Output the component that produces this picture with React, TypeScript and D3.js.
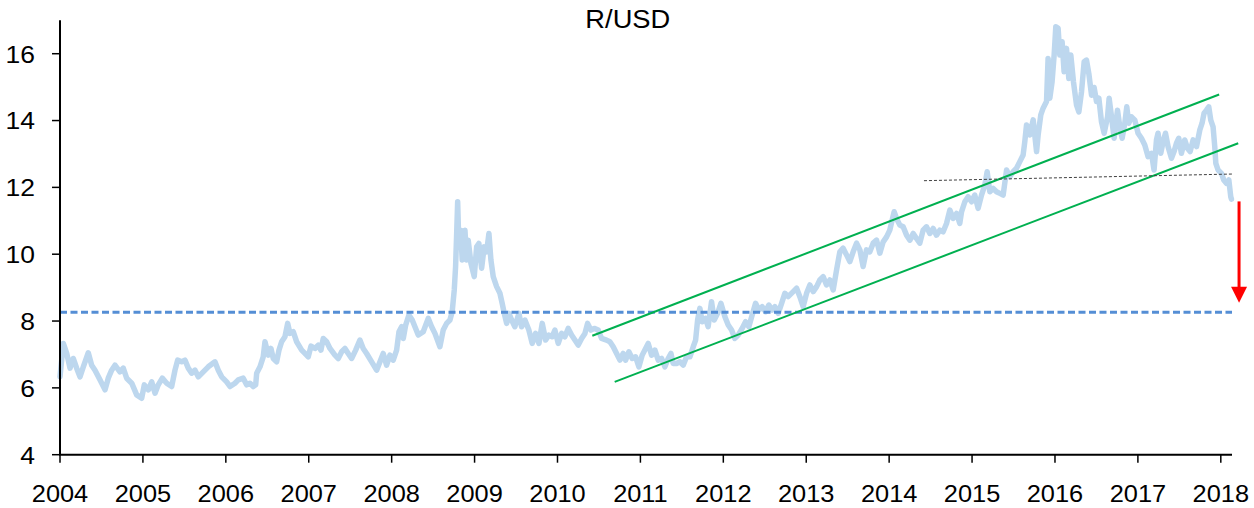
import React from "react";
import * as d3 from "d3";

// Years since 2004 (decimal) and R/USD values
const yearOffsets = [
  0.000, 0.040, 0.081, 0.121, 0.160, 0.201, 0.241, 0.281, 0.341, 0.382, 0.422, 0.482, 0.543, 0.582, 0.623, 0.663,
  0.723, 0.763, 0.804, 0.865, 0.925, 0.985, 1.017, 1.065, 1.106, 1.146, 1.185, 1.234, 1.287, 1.347, 1.387, 1.419,
  1.467, 1.507, 1.547, 1.588, 1.628, 1.668, 1.728, 1.788, 1.869, 1.909, 1.950, 2.010, 2.050,
  2.110, 2.150, 2.210, 2.251, 2.291, 2.331, 2.360, 2.372, 2.412, 2.451, 2.472, 2.512, 2.544, 2.572, 2.613, 2.641,
  2.673, 2.713, 2.746, 2.773, 2.813, 2.854, 2.915, 2.954, 2.994, 3.027, 3.075, 3.115, 3.147, 3.175, 3.216, 3.256,
  3.316, 3.356, 3.397, 3.437, 3.476, 3.517, 3.566, 3.617, 3.657, 3.698, 3.759, 3.819, 3.859, 3.898, 3.939, 3.979,
  4.019, 4.060, 4.088, 4.120, 4.140, 4.169, 4.208, 4.248,
  4.321, 4.381, 4.441, 4.482, 4.522, 4.582, 4.622, 4.663, 4.703, 4.730, 4.755, 4.771, 4.784, 4.796, 4.811, 4.832,
  4.851, 4.884, 4.904, 4.923, 4.956, 4.996, 5.025, 5.052, 5.085, 5.116, 5.145, 5.173, 5.197, 5.225, 5.266, 5.306,
  5.333, 5.358, 5.387, 5.414, 5.447, 5.486, 5.535, 5.567, 5.607, 5.655, 5.695, 5.736, 5.776, 5.816, 5.857, 5.897,
  5.936, 5.969, 6.009, 6.050, 6.089, 6.129, 6.170, 6.210, 6.250, 6.291, 6.331, 6.363, 6.403, 6.443,
  6.491, 6.532, 6.592, 6.632, 6.672, 6.713, 6.753, 6.792, 6.821, 6.861, 6.901, 6.942, 6.982, 7.022, 7.063, 7.094,
  7.135, 7.175, 7.215, 7.256, 7.295, 7.335, 7.368, 7.395, 7.436, 7.476, 7.516, 7.557, 7.597, 7.637, 7.666, 7.690,
  7.717, 7.745, 7.786, 7.817, 7.858, 7.890, 7.931, 7.971, 8.019, 8.059, 8.100, 8.139, 8.179, 8.227, 8.268, 8.308,
  8.348, 8.389, 8.429, 8.469, 8.510, 8.549, 8.589,
  8.622, 8.662, 8.703, 8.742, 8.782, 8.843, 8.884, 8.923, 8.963, 9.004, 9.044, 9.084, 9.125, 9.164, 9.204, 9.245,
  9.285, 9.325, 9.366, 9.405, 9.445, 9.486, 9.526, 9.566, 9.607, 9.647, 9.686, 9.727, 9.767, 9.807, 9.848, 9.888,
  9.928, 9.969, 10.008, 10.036, 10.060, 10.089, 10.129, 10.169, 10.210, 10.250, 10.290, 10.330, 10.370, 10.410,
  10.450, 10.491, 10.531, 10.571, 10.611, 10.651, 10.692, 10.732, 10.772, 10.813, 10.852,
  10.873, 10.913, 10.953, 10.994, 11.033, 11.073, 11.114, 11.154, 11.182, 11.214, 11.254, 11.295, 11.335, 11.375,
  11.416, 11.455, 11.495, 11.536, 11.576, 11.616, 11.636, 11.657, 11.697, 11.737, 11.778, 11.797, 11.829, 11.857,
  11.898, 11.917, 11.938, 11.965, 11.990, 12.010, 12.038, 12.058, 12.086, 12.110, 12.139, 12.167, 12.191, 12.223,
  12.260, 12.288, 12.320, 12.352, 12.380, 12.408, 12.441, 12.472, 12.501, 12.529, 12.561, 12.593,
  12.634, 12.653, 12.682, 12.713, 12.754, 12.782, 12.810, 12.842, 12.866, 12.890, 12.923, 12.963, 13.002, 13.043,
  13.083, 13.123, 13.164, 13.195, 13.224, 13.243, 13.276, 13.304, 13.333, 13.364, 13.405, 13.436, 13.465, 13.493,
  13.525, 13.565, 13.598, 13.630, 13.666, 13.707, 13.747, 13.774, 13.798, 13.827, 13.855, 13.879, 13.907, 13.927,
  13.940, 13.967, 14.008, 14.036, 14.068, 14.097, 14.120, 14.128,
];

const rates = [
  6.33, 7.33, 7.03, 6.59, 6.88, 6.59, 6.33, 6.63, 7.05, 6.68, 6.53, 6.24, 5.94, 6.29, 6.53, 6.68,
  6.48, 6.59, 6.29, 6.14, 5.79, 5.69, 6.09, 5.94, 6.18, 5.84, 6.09, 6.29, 6.14, 6.04, 6.53, 6.83,
  6.78, 6.83, 6.59, 6.44, 6.53, 6.33, 6.48, 6.63, 6.78, 6.53, 6.33, 6.18, 6.04,
  6.14, 6.24, 6.29, 6.09, 6.14, 6.04, 6.09, 6.44, 6.63, 6.93, 7.38, 6.98, 7.18, 6.88, 6.78, 7.13,
  7.38, 7.53, 7.93, 7.63, 7.68, 7.38, 7.13, 7.03, 6.93, 7.25, 7.18, 7.28, 7.13, 7.48, 7.38, 7.18,
  6.98, 6.88, 7.08, 7.18, 7.03, 6.88, 7.13, 7.43, 7.18, 7.03, 6.78, 6.53, 6.78, 7.03, 6.68, 6.98,
  6.83, 7.13, 7.68, 7.83, 7.48, 7.88, 8.18, 8.03,
  7.58, 7.68, 8.08, 7.83, 7.63, 7.23, 7.73, 7.93, 8.03, 8.28, 8.93, 9.63, 10.62, 11.57, 10.22, 10.72,
  9.83, 10.72, 9.83, 10.42, 9.73, 9.33, 10.22, 10.32, 9.58, 10.22, 10.07, 10.62, 9.83, 9.33, 9.03, 8.83,
  8.53, 8.23, 7.93, 8.23, 8.03, 7.83, 8.23, 7.83, 8.03, 7.73, 7.33, 7.63, 7.33, 7.93, 7.43, 7.58,
  7.53, 7.73, 7.33, 7.63, 7.53, 7.78, 7.58, 7.43, 7.28, 7.48, 7.63, 7.93, 7.73, 7.78,
  7.73, 7.48, 7.43, 7.38, 7.23, 7.03, 6.83, 7.03, 6.83, 7.08, 6.88, 6.93, 6.63, 6.98, 7.18, 7.33,
  6.98, 7.13, 6.83, 6.88, 6.63, 6.88, 7.03, 6.73, 6.73, 6.78, 6.68, 6.93, 6.93, 7.23, 7.43, 8.03,
  8.38, 7.98, 8.08, 7.83, 8.58, 8.03, 8.23, 8.53, 8.13, 7.88, 7.73, 7.48, 7.58, 7.78, 7.98, 7.83,
  8.18, 8.53, 8.33, 8.43, 8.28, 8.48, 8.33,
  8.43, 8.23, 8.53, 8.83, 8.73, 8.88, 8.98, 8.73, 8.43, 8.83, 9.08, 8.88, 9.03, 9.23, 9.33, 9.08,
  9.23, 8.93, 9.53, 10.07, 10.18, 9.98, 9.78, 10.07, 10.33, 10.13, 9.63, 10.13, 10.07, 10.33, 10.42, 10.03,
  10.37, 10.52, 10.72, 11.02, 11.27, 11.07, 10.87, 10.82, 10.57, 10.42, 10.62, 10.47, 10.33, 10.72,
  10.82, 10.62, 10.77, 10.57, 10.72, 10.67, 10.92, 11.32, 11.07, 11.22, 10.92,
  11.27, 11.57, 11.72, 11.57, 11.77, 11.37, 11.77, 12.07, 12.47, 11.87, 11.97, 11.87, 11.82, 11.77,
  12.52, 12.32, 12.47, 12.57, 12.77, 12.97, 13.37, 13.87, 13.57, 14.02, 13.07, 13.57, 14.17, 14.37,
  14.57, 15.86, 14.67, 15.16, 15.96, 16.81, 16.76, 15.96, 16.36, 15.46, 16.16, 15.26, 15.96, 15.16,
  14.46, 14.26, 14.86, 15.76, 15.81, 15.41, 14.76, 14.99, 14.57, 14.67, 13.96, 13.62,
  14.11, 14.67, 14.11, 13.47, 14.31, 13.81, 13.47, 13.92, 14.41, 13.92, 14.11, 14.01, 13.62, 13.47,
  13.27, 12.92, 13.02, 12.52, 13.42, 13.62, 13.02, 13.37, 13.62, 13.22, 12.87, 13.07, 13.32, 13.47,
  13.02, 13.42, 13.17, 13.07, 13.42, 13.22, 13.72, 13.92, 14.22, 14.31, 14.41, 14.01, 13.81, 13.22,
  12.72, 12.52, 12.42, 12.22, 12.12, 12.22, 11.72, 11.65,
];

const baseYear = 2004;
const xTickYears = [2004, 2005, 2006, 2007, 2008, 2009, 2010, 2011, 2012, 2013, 2014, 2015, 2016, 2017, 2018];
const yTickValues = [4, 6, 8, 10, 12, 14, 16];
const referenceLevel = 8.26;
const upperChannel: [number, number][] = [[2010.42, 7.56], [2017.98, 14.78]];
const lowerChannel: [number, number][] = [[2010.69, 6.18], [2018.21, 13.32]];
const flatTrend: [number, number][] = [[2014.42, 12.2], [2018.15, 12.4]];
const arrowFrom: [number, number] = [2018.22, 11.58];
const arrowTo: [number, number] = [2018.22, 8.55];
const title = "R/USD";

const W = 1254;
const H = 508;
const FONT = "'Liberation Sans', Arial, Helvetica, sans-serif";

export default function App() {
  const x = d3.scaleLinear().domain([2004, 2018.135]).range([60, 1232]);
  const y = d3.scaleLinear().domain([4, 17]).range([454.7, 20.3]);

  const series = yearOffsets.map((o, i) => [baseYear + o, rates[i]] as [number, number]);
  const line = d3
    .line<[number, number]>()
    .x((d) => x(d[0]))
    .y((d) => y(d[1]));

  const [x0, x1] = x.domain();
  const ax = x(arrowFrom[0]);
  const tipY = y(arrowTo[1]);
  const headH = 16;
  const headW = 8;

  return (
    <svg
      width={W}
      height={H}
      style={{ position: "absolute", left: 0, top: 0, background: "#fff" }}
      fontFamily={FONT}
    >
      <rect x={0} y={0} width={W} height={H} fill="#fff" />

      {/* main series */}
      <path
        d={line(series) || ""}
        fill="none"
        stroke="#BDD7EE"
        strokeWidth={5.5}
        strokeLinejoin="round"
        strokeLinecap="round"
      />

      {/* reference level */}
      <line
        x1={x(x0)}
        x2={x(x1)}
        y1={y(referenceLevel)}
        y2={y(referenceLevel)}
        stroke="#558ED5"
        strokeWidth={3}
        strokeDasharray="7 3.5"
      />

      {/* channel lines */}
      {[upperChannel, lowerChannel].map((seg, i) => (
        <path key={i} d={line(seg) || ""} fill="none" stroke="#00B050" strokeWidth={2} />
      ))}

      {/* flat trend */}
      <path d={line(flatTrend) || ""} fill="none" stroke="#404040" strokeWidth={1} strokeDasharray="3 2" />

      {/* red arrow */}
      <line x1={ax} x2={ax} y1={y(arrowFrom[1])} y2={tipY - headH + 2} stroke="#FF0000" strokeWidth={3} />
      <polygon
        points={`${ax - headW},${tipY - headH} ${ax + headW},${tipY - headH} ${ax},${tipY}`}
        fill="#FF0000"
      />

      {/* axes */}
      <line x1={x(x0)} x2={x(x0)} y1={y(17)} y2={y(4)} stroke="#000" strokeWidth={2} />
      <line x1={x(x0) - 1} x2={x(x1)} y1={y(4)} y2={y(4)} stroke="#000" strokeWidth={2} />

      {yTickValues.map((v) => (
        <g key={v}>
          <line x1={x(x0) - 8} x2={x(x0)} y1={y(v)} y2={y(v)} stroke="#000" strokeWidth={1.5} />
          <text
            transform={`translate(${x(x0) - 25},${y(v)}) scale(1.08,1)`}
            textAnchor="end"
            dy="0.36em"
            fontSize={24.5}
            fill="#000"
          >
            {v}
          </text>
        </g>
      ))}

      {xTickYears.map((yr) => (
        <g key={yr}>
          <line x1={x(yr)} x2={x(yr)} y1={y(4)} y2={y(4) + 8} stroke="#000" strokeWidth={1.5} />
          <text
            transform={`translate(${x(yr)},501.5) scale(1.08,1)`}
            textAnchor="middle"
            fontSize={23.5}
            fill="#000"
          >
            {yr}
          </text>
        </g>
      ))}

      <text
        transform={`translate(627.8,28.3) scale(1.05,1)`}
        textAnchor="middle"
        fontSize={26}
        fill="#000"
      >
        {title}
      </text>
    </svg>
  );
}
